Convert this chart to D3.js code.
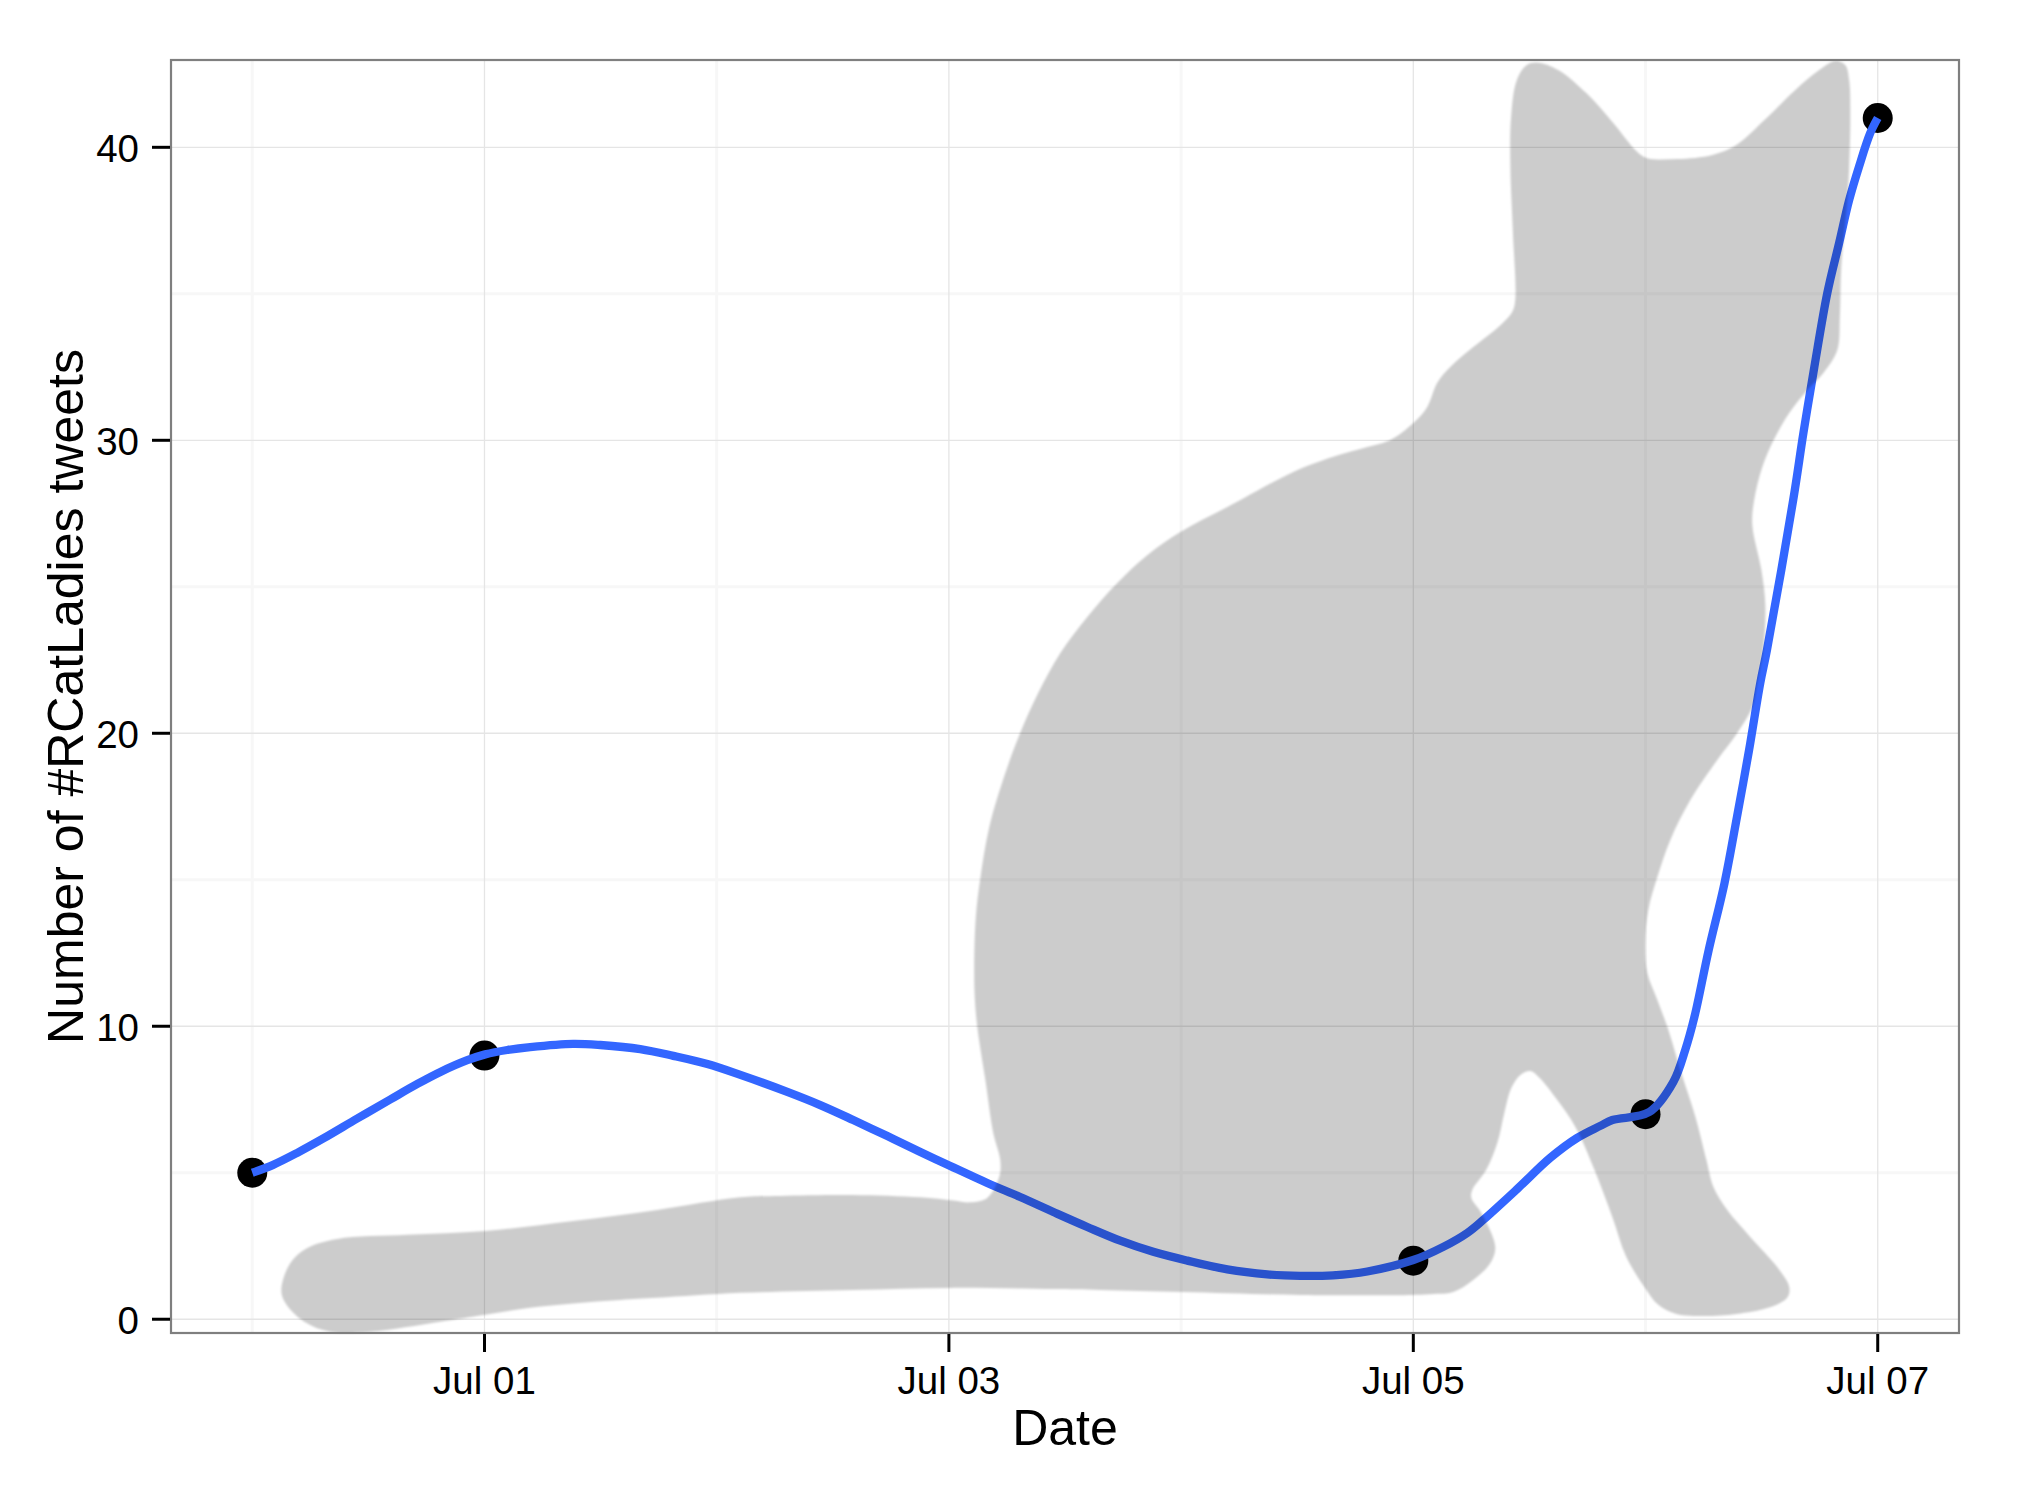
<!DOCTYPE html>
<html>
<head>
<meta charset="utf-8">
<script src="https://cdn.jsdelivr.net/npm/d3@7"></script>
<style>
html,body{margin:0;padding:0;background:#fff}
svg{display:block}
text{font-family:"Liberation Sans",Arial,sans-serif;fill:#000}
</style>
</head>
<body>
<svg id="chart" width="2020" height="1491"></svg>
<script>
// Everything on the x side is "days after 30 June".
const startDate = Date.UTC(2014, 5, 30);
const xLimits = [-0.35, 7.35];
const yLimits = [-0.47, 42.98];

const pointDays = [0, 1, 5, 6, 7];
const pointCounts = [5, 9, 2, 7, 41];

const smoothDays = [0,.09,.194,.306,.452,.594,.711,.81,.926,1.003,1.098,1.197,1.382,1.499,1.671,1.813,1.96,2.102,2.304,2.446,2.588,2.735,2.877,3.006,3.165,3.307,3.45,3.596,3.738,3.88,4.027,4.199,4.371,4.513,4.655,4.802,5,5.129,5.233,5.301,5.448,5.59,5.706,5.805,5.857,6.016,6.12,6.171,6.211,6.272,6.34,6.394,6.446,6.494,6.523,6.636,6.68,6.727,6.783,6.834,6.877,6.919,6.968,7];
const smoothCounts = [5,5.27,5.68,6.17,6.85,7.5,8.03,8.44,8.84,9.04,9.19,9.29,9.4,9.36,9.22,8.99,8.71,8.34,7.76,7.31,6.8,6.25,5.71,5.23,4.65,4.17,3.66,3.15,2.68,2.3,2,1.7,1.53,1.48,1.5,1.63,2.02,2.47,2.95,3.39,4.45,5.51,6.19,6.6,6.8,7.07,8.1,9.19,10.33,12.6,14.88,17.15,19.43,21.71,22.84,27.96,30.25,32.5,35.03,36.74,38.2,39.33,40.49,41];

const catDays = [.125,.164,.237,.366,.668,1.003,1.382,1.744,2.102,2.274,2.588,2.877,3.019,3.092,3.165,3.217,3.221,3.191,3.157,3.124,3.112,3.109,3.116,3.135,3.174,3.243,3.307,3.385,3.48,3.596,3.725,3.854,3.997,4.199,4.483,4.655,4.802,4.901,5,5.06,5.103,5.159,5.258,5.375,5.426,5.439,5.429,5.418,5.421,5.446,5.489,5.538,5.624,5.745,5.861,5.965,6.008,6.137,6.288,6.391,6.512,6.645,6.748,6.817,6.86,6.877,6.882,6.877,6.869,6.843,6.837,6.826,6.766,6.697,6.619,6.552,6.503,6.468,6.46,6.499,6.516,6.507,6.481,6.46,6.395,6.309,6.193,6.107,6.051,6.012,5.999,6.008,6.051,6.094,6.154,6.215,6.262,6.292,6.352,6.451,6.567,6.619,6.61,6.529,6.391,6.253,6.133,6.055,5.995,5.917,5.857,5.78,5.698,5.62,5.543,5.504,5.461,5.422,5.392,5.362,5.314,5.254,5.25,5.293,5.353,5.332,5.258,5.172,5.086,5,4.513,4.009,3.652,3.45,3.006,2.588,2.102,1.744,1.585,1.382,1.197,1.003,.81,.508,.336,.224,.142];
const catCounts = [1,1.92,2.43,2.74,2.88,3.01,3.35,3.73,4.16,4.21,4.24,4.16,4.05,3.99,4.14,4.86,5.44,6.36,8.17,9.87,10.9,12.02,13.73,15.03,16.8,18.64,20.01,21.38,22.74,23.97,25.13,26.08,26.87,27.72,28.92,29.44,29.77,30.01,30.59,31.14,31.96,32.5,33.18,33.93,34.38,34.79,37.08,39.33,41.03,42.3,42.81,42.89,42.64,41.85,40.83,39.84,39.63,39.6,39.74,40.08,40.93,41.96,42.64,42.95,42.81,42.3,41.03,39.33,38.2,35.91,34.21,33.08,32.3,31.72,30.93,30.01,29.09,27.96,27.11,25.57,24.37,22.84,21.72,20.9,20.01,19.09,17.72,16.36,15.09,13.97,12.84,11.82,10.9,9.98,8.41,6.9,5.44,4.52,3.73,2.81,1.78,1.1,.73,.39,.18,.11,.18,.49,1.1,2.13,3.49,5.1,6.56,7.48,8.24,8.47,8.34,7.89,7.04,6.02,5.1,4.41,4.14,3.63,2.47,1.92,1.34,.93,.86,.83,.83,.93,1,1.03,1.07,1,.9,.73,.66,.54,.39,.15,-.09,-.43,-.43,-.09,.56];

const xMajorDays = [1, 3, 5, 7];
const xMinorDays = [0, 2, 4, 6];
const yMajor = [0, 10, 20, 30, 40];
const yMinor = [5, 15, 25, 35];
const xTitle = "Date";
const yTitle = "Number of #RCatLadies tweets";

const panel = {left: 171, right: 1959, top: 60, bottom: 1333};
const toDate = d => new Date(startDate + d * 864e5);

const x = d3.scaleUtc().domain(xLimits.map(toDate)).range([panel.left, panel.right]);
const y = d3.scaleLinear().domain(yLimits).range([panel.bottom, panel.top]);

const svg = d3.select("#chart");

svg.append("defs").append("filter").attr("id", "soft")
  .attr("x", "-2%").attr("y", "-2%").attr("width", "104%").attr("height", "104%")
  .append("feGaussianBlur").attr("stdDeviation", 0.9);

// grid
const grid = svg.append("g");
grid.selectAll(".vmin").data(xMinorDays).join("line")
  .attr("x1", d => x(toDate(d))).attr("x2", d => x(toDate(d)))
  .attr("y1", panel.top).attr("y2", panel.bottom)
  .attr("stroke", "#f7f7f7").attr("stroke-width", 3);
grid.selectAll(".hmin").data(yMinor).join("line")
  .attr("y1", d => y(d)).attr("y2", d => y(d))
  .attr("x1", panel.left).attr("x2", panel.right)
  .attr("stroke", "#f7f7f7").attr("stroke-width", 3);
grid.selectAll(".vmaj").data(xMajorDays).join("line")
  .attr("x1", d => x(toDate(d))).attr("x2", d => x(toDate(d)))
  .attr("y1", panel.top).attr("y2", panel.bottom)
  .attr("stroke", "#e5e5e5").attr("stroke-width", 1.3);
grid.selectAll(".hmaj").data(yMajor).join("line")
  .attr("y1", d => y(d)).attr("y2", d => y(d))
  .attr("x1", panel.left).attr("x2", panel.right)
  .attr("stroke", "#e5e5e5").attr("stroke-width", 1.3);

// points
svg.append("g").selectAll("circle").data(pointDays).join("circle")
  .attr("cx", d => x(toDate(d)))
  .attr("cy", (d, i) => y(pointCounts[i]))
  .attr("r", 15).attr("fill", "#000");

// smoother
const smoothLine = d3.line()
  .x(d => x(toDate(d)))
  .y((d, i) => y(smoothCounts[i]))
  .curve(d3.curveCatmullRom.alpha(0.5));
svg.append("path").attr("d", smoothLine(smoothDays))
  .attr("fill", "none").attr("stroke", "#3366ff").attr("stroke-width", 8.3)
  .attr("stroke-linejoin", "round");

// cat silhouette, translucent and on top of the data
const catLine = d3.line()
  .x(d => x(toDate(d)))
  .y((d, i) => y(catCounts[i]))
  .curve(d3.curveCatmullRomClosed.alpha(0.5));
svg.append("path").attr("d", catLine(catDays))
  .attr("fill", "#000").attr("fill-opacity", 0.2).attr("filter", "url(#soft)");

// panel border
svg.append("rect")
  .attr("x", panel.left).attr("y", panel.top)
  .attr("width", panel.right - panel.left).attr("height", panel.bottom - panel.top)
  .attr("fill", "none").attr("stroke", "#7f7f7f").attr("stroke-width", 2.2);

// axes
const xAxis = d3.axisBottom(x)
  .tickValues(xMajorDays.map(toDate))
  .tickFormat(d3.utcFormat("%b %d"))
  .tickSize(18).tickPadding(15).offset(0);
const gx = svg.append("g").attr("transform", `translate(0,${panel.bottom + 1})`).call(xAxis);
const yAxis = d3.axisLeft(y)
  .tickValues(yMajor).tickSize(18).tickPadding(13).offset(0);
const gy = svg.append("g").attr("transform", `translate(${panel.left - 1},0)`).call(yAxis);
[gx, gy].forEach(g => {
  g.select(".domain").remove();
  g.selectAll("line").attr("stroke", "#000").attr("stroke-width", 3);
  g.selectAll("text").attr("fill", "#000").attr("font-size", 38.5)
    .attr("font-family", '"Liberation Sans",Arial,sans-serif');
});
gy.selectAll("text").attr("dy", "0.38em");

// titles
svg.append("text")
  .attr("x", (panel.left + panel.right) / 2).attr("y", 1445)
  .attr("text-anchor", "middle").attr("font-size", 50).text(xTitle);
svg.append("text")
  .attr("transform", `translate(83,${(panel.top + panel.bottom) / 2}) rotate(-90)`)
  .attr("text-anchor", "middle").attr("font-size", 50).text(yTitle);
</script>
</body>
</html>
